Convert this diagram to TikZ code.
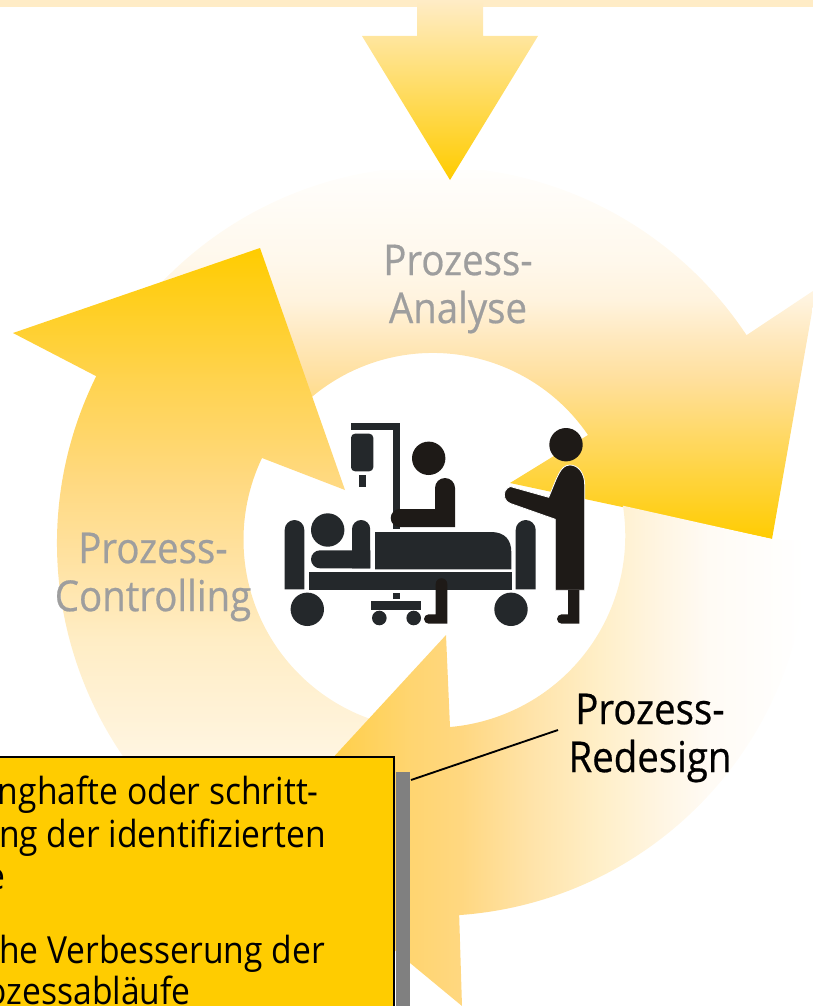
\documentclass[tikz,border=0pt]{standalone}
\usepackage{fontspec}
\setmainfont[FakeStretch=0.9]{Open Sans}
\newfontfamily\stepfont[FakeStretch=0.9, FakeBold=0.5]{Open Sans}
\definecolor{cycleyellow}{RGB}{255,204,0}
\definecolor{bardpale}{RGB}{255,236,198}
\definecolor{bedgrey}{RGB}{36,40,43}
\definecolor{figureblack}{RGB}{30,26,23}
\definecolor{labelgrey}{RGB}{158,158,158}
\definecolor{shadowgrey}{RGB}{128,128,128}
\pgfdeclareverticalshading{analyseshade}{100bp}{rgb(0bp)=(1,0.8,0); rgb(25bp)=(1,0.8,0); rgb(46.6bp)=(1,0.875,0.61); rgb(52bp)=(1,0.91,0.737); rgb(57.4bp)=(1,0.953,0.87); rgb(62.8bp)=(1,0.973,0.925); rgb(75bp)=(1,0.996,0.988); rgb(100bp)=(1,0.996,0.988)}
\pgfdeclareverticalshading{controlshade}{100bp}{rgb(0bp)=(1,0.976,0.933); rgb(25bp)=(1,0.976,0.933); rgb(30bp)=(1,0.957,0.87); rgb(39.5bp)=(1,0.93,0.773); rgb(46.7bp)=(1,0.886,0.635); rgb(54bp)=(1,0.851,0.502); rgb(63bp)=(1,0.827,0.31); rgb(75bp)=(1,0.8,0); rgb(100bp)=(1,0.8,0)}
\pgfdeclarehorizontalshading{redesignshade}{100bp}{rgb(0bp)=(1,0.8,0.125); rgb(25bp)=(1,0.8,0.125); rgb(32.9bp)=(1,0.816,0.314); rgb(38.8bp)=(1,0.835,0.44); rgb(43.4bp)=(1,0.843,0.5); rgb(49.8bp)=(1,0.89,0.66); rgb(56.2bp)=(1,0.937,0.784); rgb(61.7bp)=(1,0.961,0.886); rgb(66.3bp)=(1,0.984,0.96); rgb(75bp)=(1,1,1); rgb(100bp)=(1,1,1)}
\tikzset{
  stepname/.style={align=center, font=\stepfont\fontsize{32}{36}\selectfont},
  stepname-grey/.style={stepname, text=labelgrey},
  stepname-black/.style={stepname, text=black},
  boxline/.style={anchor=base east, text=black, inner sep=0pt, font=\fontsize{28}{32}\selectfont},
  bed/.style={fill=bedgrey},
  figure/.style={fill=figureblack}
}
% post with a round top, flat bottom
\newcommand{\roundpost}[5]{
  \fill[#1] (#2,-#4) -- (#2,{-#3-(#5)}) arc[start angle=180, end angle=0, radius=#5] -- ({#2+2*(#5)},-#4) -- cycle;
}
\begin{document}
\begin{tikzpicture}[x=0.75pt, y=0.75pt]
  \useasboundingbox (0,0) rectangle (813,-1006);
  \clip (0,0) rectangle (813,-1006);
  % Analyse arrow
  \begin{scope}
    \clip (125,-327) arc[start angle=145, end angle=33.5, radius=376] -- (816,-289) -- (772,-539)
      -- (510,-483) -- (588,-435) arc[start angle=34.3, end angle=135, radius=188] -- cycle;
    \shade[shading=analyseshade] (0,-170) rectangle (813,-540);
  \end{scope}
  % Controlling arrow
  \begin{scope}
    \clip (13,-333) -- (260,-248) -- (345,-490) -- (262,-458)
      arc[start angle=154.5, end angle=252, radius=190] -- (245,-869)
      arc[start angle=240, end angle=153.6, radius=376] -- cycle;
    \shade[shading=controlshade] (0,-248) rectangle (813,-800);
  \end{scope}
  % Redesign arrow
  \begin{scope}
    \clip (808,-541) arc[start angle=0, end angle=-86, radius=375] -- (462,-1006) -- (259,-838)
      -- (446,-635) -- (450,-727) arc[start angle=-85, end angle=9, radius=192] -- (772,-539) -- cycle;
    \shade[shading=redesignshade] (259,0) rectangle (805,-1020);
  \end{scope}
  % Top bar and incoming arrow
  \fill[bardpale] (0,0) rectangle (813,-7);
  \begin{scope}
    \clip (417,0) -- (483,0) -- (483,-36) -- (538,-36) -- (450,-180) -- (362,-36) -- (417,-36) -- cycle;
    \shade[top color=bardpale, bottom color=cycleyellow] (350,0) rectangle (550,-180);
  \end{scope}
  % Step names
  \node[stepname-grey] (analyse) at (458,-289) {Prozess-\\Analyse};
  \node[stepname-grey] (controlling) at (153,-577) {Prozess-\\Controlling};
  \node[stepname-black] (redesign) at (650,-738) {Prozess-\\Redesign};
  % Bed
  \roundpost{bed}{284.7}{520}{589.3}{9.8}
  \roundpost{bed}{515.7}{520}{589.3}{10}
  \fill[bed] (309,-572) rectangle (512,-590);
  \fill[bed] (307.3,-609.3) circle (16.7);
  \fill[bed] (511,-609.3) circle (16.7);
  % Patient
  \fill[bed] (327.7,-530) circle (16.7);
  \roundpost{bed}{352}{520}{568.3}{9.1}
  \fill[bed] (370.3,-550.3) -- (320,-550.3) arc[start angle=90, end angle=270, radius=9] -- (370.3,-568.3) -- cycle;
  \fill[bed] (375,-532) -- (491,-532) .. controls (505,-532) and (511.3,-540) .. (511.3,-552) -- (511.3,-569.3) -- (375,-569.3) -- cycle;
  % Drip stand and trolley
  \fill[bed] (351,-423) rectangle (400,-430);
  \fill[bed] (393,-423) rectangle (400,-529);
  \fill[bed, rounded corners=3pt] (351,-433.7) rectangle (373.3,-471.3);
  \fill[bed] (359,-475) rectangle (366,-487);
  \fill[bed] (393,-593) rectangle (400,-599);
  \fill[bed] (371,-601) rectangle (421,-610);
  \fill[bed] (379.3,-618) circle (7.3);
  \fill[bed] (413.7,-618) circle (7.3);
  % Sitting figure
  \fill[figure] (428.7,-458.3) circle (16.7);
  \fill[figure] (455,-527) -- (455,-488) arc[start angle=0, end angle=180, radius=10] -- (435,-509)
    -- (399.7,-509) arc[start angle=90, end angle=270, radius=9] -- cycle;
  \fill[figure] (447.3,-623.7) -- (447.3,-584) arc[start angle=0, end angle=180, radius=5.8] -- (435.7,-614.3)
    -- (428.7,-614.3) arc[start angle=90, end angle=270, radius=4.7] -- cycle;
  % Standing figure
  \fill[figure] (566,-444.7) circle (16.7);
  \fill[figure, draw=white, line width=0.6pt] (555.3,-519.3) -- (555.3,-590.3) -- (584.7,-590.3) -- (584.7,-485)
    .. controls (584.7,-473) and (578,-465) .. (570,-465)
    .. controls (560,-465) and (557,-478) .. (548.7,-497.3)
    -- (510.2,-486.5) arc[start angle=110, end angle=250, radius=9] -- cycle;
  \fill[figure] (579.3,-590) -- (579.3,-623.7) -- (561.7,-623.7) arc[start angle=270, end angle=90, radius=4.7] -- (568,-614.3) -- (568,-590) -- cycle;
  % Text box with its shadow
  \fill[shadowgrey] (396,-772) rectangle (410,-1010);
  \draw[black, line width=2.2pt, fill=cycleyellow] (-10,-757) rectangle (394,-1020);
  \node[boxline] (lineone) at (319,-804) {nghafte oder schritt-};
  \node[boxline] (linetwo) at (326,-847) {ng der identifizierten};
  \node[boxline] (linethree) at (6,-889) {e};
  \node[boxline] (linefour) at (325,-963) {he Verbesserung der};
  \node[boxline] (linefive) at (191,-1004) {ozessabläufe};
  % Leader from name to box
  \coordinate (leaderstart) at (558,-730);
  \coordinate (leaderend) at (411,-780);
  \draw[black, line width=1.4pt] (leaderstart) -- (leaderend);
\end{tikzpicture}
\end{document}
